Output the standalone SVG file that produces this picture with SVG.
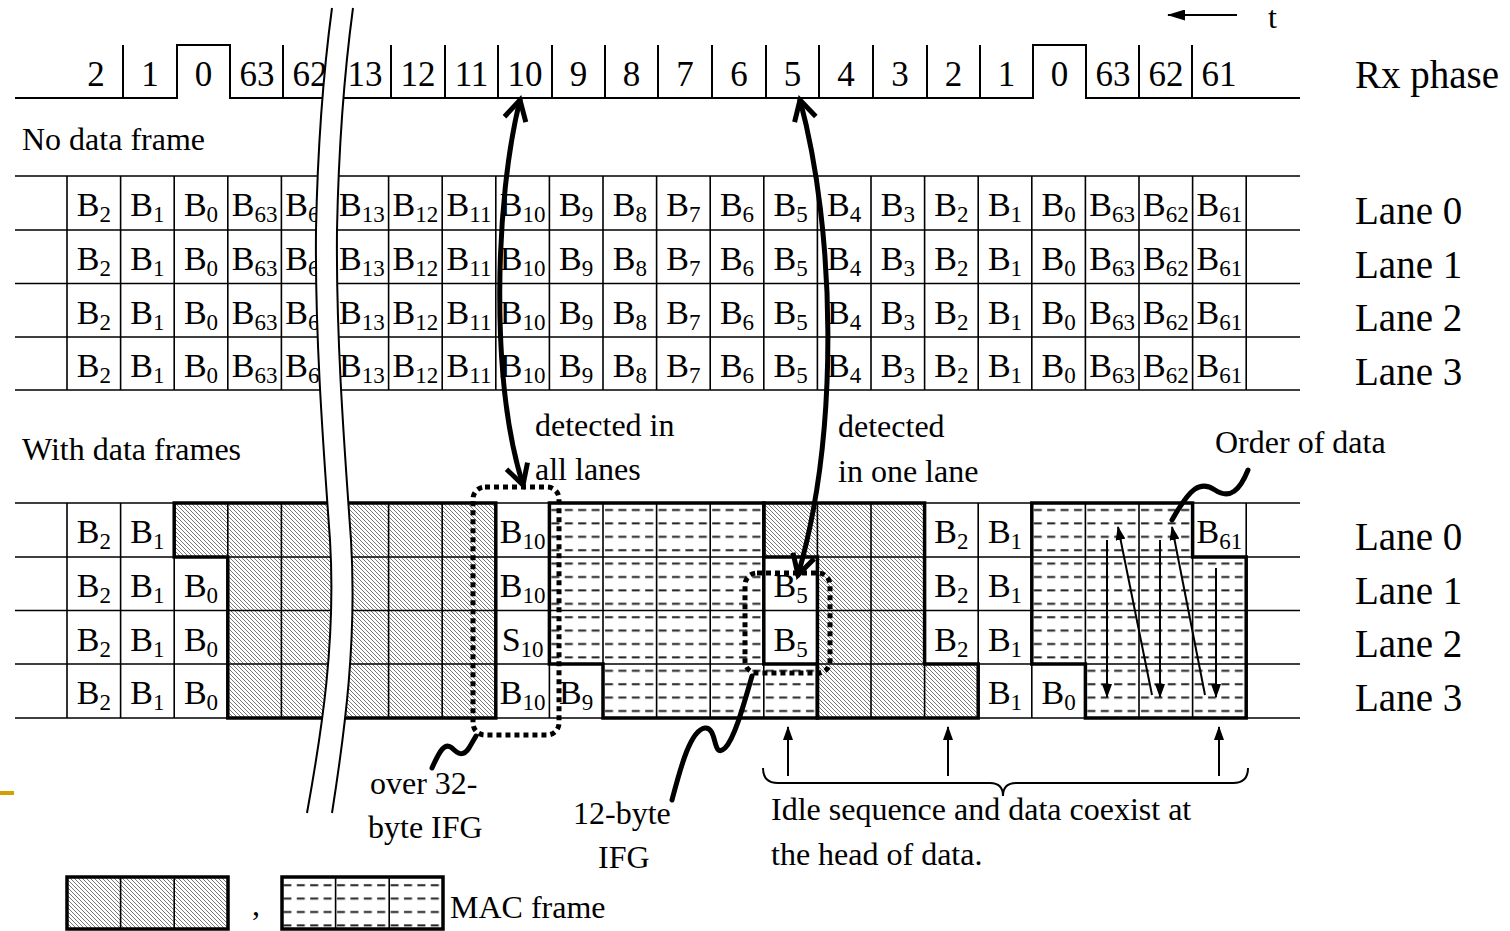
<svg xmlns="http://www.w3.org/2000/svg" width="1510" height="931" viewBox="0 0 1510 931">
<style>
.t{font-family:"Liberation Serif","Times New Roman",serif;fill:#000}
.cell{font-size:34px;text-anchor:middle}
.sub{font-size:23px}
.lab{font-size:39px}
.ann{font-size:32px}
.ph{font-size:35px;text-anchor:middle}
.grid{stroke:#000;stroke-width:1.6;fill:none}
.thick{stroke:#000;stroke-width:3.5;fill:none;stroke-linejoin:miter}
.dot{stroke:#000;stroke-width:5;stroke-dasharray:5 4;fill:none}
.big{stroke:#000;stroke-width:5;fill:none;stroke-linecap:round}
.thin{stroke:#000;stroke-width:2;fill:none}
</style>
<defs>
<pattern id="hatch" patternUnits="userSpaceOnUse" width="4" height="4"><rect width="4" height="4" fill="#fff"/><path d="M-1,-1 L5,5 M-1,3 L1,5 M3,-1 L5,1" stroke="#555" stroke-width="0.8"/></pattern>
<pattern id="mac" patternUnits="userSpaceOnUse" x="0" y="503" width="13.4" height="13.4"><rect width="13.4" height="13.4" fill="#fff"/><path d="M2,7 H10" stroke="#222" stroke-width="2"/></pattern>
<marker id="chev" markerUnits="userSpaceOnUse" viewBox="-24 -14 28 28" refX="0" refY="0" markerWidth="28" markerHeight="28" orient="auto-start-reverse" overflow="visible"><path d="M-20,-11 L0,0 L-20,11" fill="none" stroke="#000" stroke-width="5"/></marker>
<marker id="tri" markerUnits="userSpaceOnUse" viewBox="0 0 14 10" refX="13" refY="5" markerWidth="14" markerHeight="10" orient="auto"><path d="M0,0 L14,5 L0,10 Z" fill="#000"/></marker>
<marker id="tri2" markerUnits="userSpaceOnUse" viewBox="0 0 18 11" refX="17" refY="5.5" markerWidth="18" markerHeight="11" orient="auto"><path d="M0,0 L18,5.5 L0,11 Z" fill="#000"/></marker>
</defs>
<rect width="1510" height="931" fill="#fff"/>

<g id="phase-row">
<path class="thin" d="M15,98 H177 V45 H230 V98 H1033 V45 H1086 V98 H1300" stroke-width="3"/>
<path class="thin" stroke-width="3" d="M123,45V98 M283,45V98 M391,45V98 M445,45V98 M498,45V98 M552,45V98 M605,45V98 M658,45V98 M712,45V98 M766,45V98 M819,45V98 M873,45V98 M927,45V98 M980,45V98 M1139,45V98 M1192,45V98"/>
<text class="t ph" y="86"><tspan x="96">2</tspan><tspan x="150">1</tspan><tspan x="203.5">0</tspan><tspan x="257">63</tspan><tspan x="310">62</tspan><tspan x="365">13</tspan><tspan x="418">12</tspan><tspan x="471.5">11</tspan><tspan x="525">10</tspan><tspan x="578.5">9</tspan><tspan x="631.5">8</tspan><tspan x="685">7</tspan><tspan x="739">6</tspan><tspan x="792.5">5</tspan><tspan x="846">4</tspan><tspan x="900">3</tspan><tspan x="953.5">2</tspan><tspan x="1006.5">1</tspan><tspan x="1059.5">0</tspan><tspan x="1113">63</tspan><tspan x="1166">62</tspan><tspan x="1219">61</tspan></text>
<text class="t lab" x="1355" y="88">Rx phase</text>
<line class="thin" x1="1237" y1="15" x2="1168" y2="15" marker-end="url(#tri2)"/>
<text class="t ann" x="1268" y="28">t</text>
</g>

<g id="no-data">
<text class="t ann" x="22" y="150">No data frame</text>
<path class="grid" stroke-width="2" d="M15,176H1300 M15,230H1300 M15,283.5H1300 M15,337H1300 M15,390H1300"/>
<path class="grid" d="M67,176V390 M120.6,176V390 M174.2,176V390 M227.8,176V390 M281.4,176V390 M335,176V390 M388.6,176V390 M442.2,176V390 M495.8,176V390 M549.4,176V390 M603,176V390 M656.6,176V390 M710.2,176V390 M763.8,176V390 M817.4,176V390 M871,176V390 M924.6,176V390 M978.2,176V390 M1031.8,176V390 M1085.4,176V390 M1139,176V390 M1192.6,176V390 M1246.2,176V390"/>
<g id="nd-lane0">
<text class="t cell" x="93.8" y="216">B<tspan class="sub" dy="6">2</tspan></text>
<text class="t cell" x="147.4" y="216">B<tspan class="sub" dy="6">1</tspan></text>
<text class="t cell" x="201" y="216">B<tspan class="sub" dy="6">0</tspan></text>
<text class="t cell" x="254.6" y="216">B<tspan class="sub" dy="6">63</tspan></text>
<text class="t cell" x="308.2" y="216">B<tspan class="sub" dy="6">62</tspan></text>
<text class="t cell" x="361.8" y="216">B<tspan class="sub" dy="6">13</tspan></text>
<text class="t cell" x="415.4" y="216">B<tspan class="sub" dy="6">12</tspan></text>
<text class="t cell" x="469" y="216">B<tspan class="sub" dy="6">11</tspan></text>
<text class="t cell" x="522.6" y="216">B<tspan class="sub" dy="6">10</tspan></text>
<text class="t cell" x="576.2" y="216">B<tspan class="sub" dy="6">9</tspan></text>
<text class="t cell" x="629.8" y="216">B<tspan class="sub" dy="6">8</tspan></text>
<text class="t cell" x="683.4" y="216">B<tspan class="sub" dy="6">7</tspan></text>
<text class="t cell" x="737" y="216">B<tspan class="sub" dy="6">6</tspan></text>
<text class="t cell" x="790.6" y="216">B<tspan class="sub" dy="6">5</tspan></text>
<text class="t cell" x="844.2" y="216">B<tspan class="sub" dy="6">4</tspan></text>
<text class="t cell" x="897.8" y="216">B<tspan class="sub" dy="6">3</tspan></text>
<text class="t cell" x="951.4" y="216">B<tspan class="sub" dy="6">2</tspan></text>
<text class="t cell" x="1005" y="216">B<tspan class="sub" dy="6">1</tspan></text>
<text class="t cell" x="1058.6" y="216">B<tspan class="sub" dy="6">0</tspan></text>
<text class="t cell" x="1112.2" y="216">B<tspan class="sub" dy="6">63</tspan></text>
<text class="t cell" x="1165.8" y="216">B<tspan class="sub" dy="6">62</tspan></text>
<text class="t cell" x="1219.4" y="216">B<tspan class="sub" dy="6">61</tspan></text>
</g>
<g id="nd-lane1">
<text class="t cell" x="93.8" y="270">B<tspan class="sub" dy="6">2</tspan></text>
<text class="t cell" x="147.4" y="270">B<tspan class="sub" dy="6">1</tspan></text>
<text class="t cell" x="201" y="270">B<tspan class="sub" dy="6">0</tspan></text>
<text class="t cell" x="254.6" y="270">B<tspan class="sub" dy="6">63</tspan></text>
<text class="t cell" x="308.2" y="270">B<tspan class="sub" dy="6">62</tspan></text>
<text class="t cell" x="361.8" y="270">B<tspan class="sub" dy="6">13</tspan></text>
<text class="t cell" x="415.4" y="270">B<tspan class="sub" dy="6">12</tspan></text>
<text class="t cell" x="469" y="270">B<tspan class="sub" dy="6">11</tspan></text>
<text class="t cell" x="522.6" y="270">B<tspan class="sub" dy="6">10</tspan></text>
<text class="t cell" x="576.2" y="270">B<tspan class="sub" dy="6">9</tspan></text>
<text class="t cell" x="629.8" y="270">B<tspan class="sub" dy="6">8</tspan></text>
<text class="t cell" x="683.4" y="270">B<tspan class="sub" dy="6">7</tspan></text>
<text class="t cell" x="737" y="270">B<tspan class="sub" dy="6">6</tspan></text>
<text class="t cell" x="790.6" y="270">B<tspan class="sub" dy="6">5</tspan></text>
<text class="t cell" x="844.2" y="270">B<tspan class="sub" dy="6">4</tspan></text>
<text class="t cell" x="897.8" y="270">B<tspan class="sub" dy="6">3</tspan></text>
<text class="t cell" x="951.4" y="270">B<tspan class="sub" dy="6">2</tspan></text>
<text class="t cell" x="1005" y="270">B<tspan class="sub" dy="6">1</tspan></text>
<text class="t cell" x="1058.6" y="270">B<tspan class="sub" dy="6">0</tspan></text>
<text class="t cell" x="1112.2" y="270">B<tspan class="sub" dy="6">63</tspan></text>
<text class="t cell" x="1165.8" y="270">B<tspan class="sub" dy="6">62</tspan></text>
<text class="t cell" x="1219.4" y="270">B<tspan class="sub" dy="6">61</tspan></text>
</g>
<g id="nd-lane2">
<text class="t cell" x="93.8" y="323.5">B<tspan class="sub" dy="6">2</tspan></text>
<text class="t cell" x="147.4" y="323.5">B<tspan class="sub" dy="6">1</tspan></text>
<text class="t cell" x="201" y="323.5">B<tspan class="sub" dy="6">0</tspan></text>
<text class="t cell" x="254.6" y="323.5">B<tspan class="sub" dy="6">63</tspan></text>
<text class="t cell" x="308.2" y="323.5">B<tspan class="sub" dy="6">62</tspan></text>
<text class="t cell" x="361.8" y="323.5">B<tspan class="sub" dy="6">13</tspan></text>
<text class="t cell" x="415.4" y="323.5">B<tspan class="sub" dy="6">12</tspan></text>
<text class="t cell" x="469" y="323.5">B<tspan class="sub" dy="6">11</tspan></text>
<text class="t cell" x="522.6" y="323.5">B<tspan class="sub" dy="6">10</tspan></text>
<text class="t cell" x="576.2" y="323.5">B<tspan class="sub" dy="6">9</tspan></text>
<text class="t cell" x="629.8" y="323.5">B<tspan class="sub" dy="6">8</tspan></text>
<text class="t cell" x="683.4" y="323.5">B<tspan class="sub" dy="6">7</tspan></text>
<text class="t cell" x="737" y="323.5">B<tspan class="sub" dy="6">6</tspan></text>
<text class="t cell" x="790.6" y="323.5">B<tspan class="sub" dy="6">5</tspan></text>
<text class="t cell" x="844.2" y="323.5">B<tspan class="sub" dy="6">4</tspan></text>
<text class="t cell" x="897.8" y="323.5">B<tspan class="sub" dy="6">3</tspan></text>
<text class="t cell" x="951.4" y="323.5">B<tspan class="sub" dy="6">2</tspan></text>
<text class="t cell" x="1005" y="323.5">B<tspan class="sub" dy="6">1</tspan></text>
<text class="t cell" x="1058.6" y="323.5">B<tspan class="sub" dy="6">0</tspan></text>
<text class="t cell" x="1112.2" y="323.5">B<tspan class="sub" dy="6">63</tspan></text>
<text class="t cell" x="1165.8" y="323.5">B<tspan class="sub" dy="6">62</tspan></text>
<text class="t cell" x="1219.4" y="323.5">B<tspan class="sub" dy="6">61</tspan></text>
</g>
<g id="nd-lane3">
<text class="t cell" x="93.8" y="377">B<tspan class="sub" dy="6">2</tspan></text>
<text class="t cell" x="147.4" y="377">B<tspan class="sub" dy="6">1</tspan></text>
<text class="t cell" x="201" y="377">B<tspan class="sub" dy="6">0</tspan></text>
<text class="t cell" x="254.6" y="377">B<tspan class="sub" dy="6">63</tspan></text>
<text class="t cell" x="308.2" y="377">B<tspan class="sub" dy="6">62</tspan></text>
<text class="t cell" x="361.8" y="377">B<tspan class="sub" dy="6">13</tspan></text>
<text class="t cell" x="415.4" y="377">B<tspan class="sub" dy="6">12</tspan></text>
<text class="t cell" x="469" y="377">B<tspan class="sub" dy="6">11</tspan></text>
<text class="t cell" x="522.6" y="377">B<tspan class="sub" dy="6">10</tspan></text>
<text class="t cell" x="576.2" y="377">B<tspan class="sub" dy="6">9</tspan></text>
<text class="t cell" x="629.8" y="377">B<tspan class="sub" dy="6">8</tspan></text>
<text class="t cell" x="683.4" y="377">B<tspan class="sub" dy="6">7</tspan></text>
<text class="t cell" x="737" y="377">B<tspan class="sub" dy="6">6</tspan></text>
<text class="t cell" x="790.6" y="377">B<tspan class="sub" dy="6">5</tspan></text>
<text class="t cell" x="844.2" y="377">B<tspan class="sub" dy="6">4</tspan></text>
<text class="t cell" x="897.8" y="377">B<tspan class="sub" dy="6">3</tspan></text>
<text class="t cell" x="951.4" y="377">B<tspan class="sub" dy="6">2</tspan></text>
<text class="t cell" x="1005" y="377">B<tspan class="sub" dy="6">1</tspan></text>
<text class="t cell" x="1058.6" y="377">B<tspan class="sub" dy="6">0</tspan></text>
<text class="t cell" x="1112.2" y="377">B<tspan class="sub" dy="6">63</tspan></text>
<text class="t cell" x="1165.8" y="377">B<tspan class="sub" dy="6">62</tspan></text>
<text class="t cell" x="1219.4" y="377">B<tspan class="sub" dy="6">61</tspan></text>
</g>
<text class="t lab" x="1355" y="224">Lane 0</text>
<text class="t lab" x="1355" y="278">Lane 1</text>
<text class="t lab" x="1355" y="331">Lane 2</text>
<text class="t lab" x="1355" y="385">Lane 3</text>
</g>

<g id="with-data">
<text class="t ann" x="22" y="460">With data frames</text>
<path id="idle-1" fill="url(#hatch)" d="M174.2,503 H495.8 V718 H227.8 V557 H174.2 Z"/>
<path id="mac-1" fill="url(#mac)" d="M549.4,503 H763.8 V664 H817.4 V718 H603 V664 H549.4 Z"/>
<path id="idle-2" fill="url(#hatch)" d="M763.8,503 H924.6 V664 H978.2 V718 H817.4 V557 H763.8 Z"/>
<path id="mac-2" fill="url(#mac)" d="M1031.8,503 H1192.6 V557 H1246.2 V718 H1085.4 V664 H1031.8 Z"/>
<path class="grid" stroke-width="2" d="M15,503H1300 M15,557H1300 M15,610.5H1300 M15,664H1300 M15,718H1300"/>
<path class="grid" d="M67,503V718 M120.6,503V718 M174.2,503V718 M227.8,503V718 M281.4,503V718 M335,503V718 M388.6,503V718 M442.2,503V718 M495.8,503V718 M549.4,503V718 M603,503V718 M656.6,503V718 M710.2,503V718 M763.8,503V718 M817.4,503V718 M871,503V718 M924.6,503V718 M978.2,503V718 M1031.8,503V718 M1085.4,503V718 M1139,503V718 M1192.6,503V718 M1246.2,503V718"/>
<path class="thick" d="M174.2,503 H495.8 V718 H227.8 V557 H174.2 Z"/>
<path class="thick" d="M549.4,503 H763.8 V664 H817.4 V718 H603 V664 H549.4 Z"/>
<path class="thick" d="M763.8,503 H924.6 V664 H978.2 V718 H817.4 V557 H763.8 Z"/>
<path class="thick" d="M1031.8,503 H1192.6 V557 H1246.2 V718 H1085.4 V664 H1031.8 Z"/>
<g id="wd-lane0">
<text class="t cell" x="93.8" y="543">B<tspan class="sub" dy="6">2</tspan></text>
<text class="t cell" x="147.4" y="543">B<tspan class="sub" dy="6">1</tspan></text>
<text class="t cell" x="522.6" y="543">B<tspan class="sub" dy="6">10</tspan></text>
<text class="t cell" x="951.4" y="543">B<tspan class="sub" dy="6">2</tspan></text>
<text class="t cell" x="1005" y="543">B<tspan class="sub" dy="6">1</tspan></text>
<text class="t cell" x="1219.4" y="543">B<tspan class="sub" dy="6">61</tspan></text>
</g>
<g id="wd-lane1">
<text class="t cell" x="93.8" y="597">B<tspan class="sub" dy="6">2</tspan></text>
<text class="t cell" x="147.4" y="597">B<tspan class="sub" dy="6">1</tspan></text>
<text class="t cell" x="201" y="597">B<tspan class="sub" dy="6">0</tspan></text>
<text class="t cell" x="522.6" y="597">B<tspan class="sub" dy="6">10</tspan></text>
<text class="t cell" x="790.6" y="597">B<tspan class="sub" dy="6">5</tspan></text>
<text class="t cell" x="951.4" y="597">B<tspan class="sub" dy="6">2</tspan></text>
<text class="t cell" x="1005" y="597">B<tspan class="sub" dy="6">1</tspan></text>
</g>
<g id="wd-lane2">
<text class="t cell" x="93.8" y="650.5">B<tspan class="sub" dy="6">2</tspan></text>
<text class="t cell" x="147.4" y="650.5">B<tspan class="sub" dy="6">1</tspan></text>
<text class="t cell" x="201" y="650.5">B<tspan class="sub" dy="6">0</tspan></text>
<text class="t cell" x="522.6" y="650.5">S<tspan class="sub" dy="6">10</tspan></text>
<text class="t cell" x="790.6" y="650.5">B<tspan class="sub" dy="6">5</tspan></text>
<text class="t cell" x="951.4" y="650.5">B<tspan class="sub" dy="6">2</tspan></text>
<text class="t cell" x="1005" y="650.5">B<tspan class="sub" dy="6">1</tspan></text>
</g>
<g id="wd-lane3">
<text class="t cell" x="93.8" y="704">B<tspan class="sub" dy="6">2</tspan></text>
<text class="t cell" x="147.4" y="704">B<tspan class="sub" dy="6">1</tspan></text>
<text class="t cell" x="201" y="704">B<tspan class="sub" dy="6">0</tspan></text>
<text class="t cell" x="522.6" y="704">B<tspan class="sub" dy="6">10</tspan></text>
<text class="t cell" x="576.2" y="704">B<tspan class="sub" dy="6">9</tspan></text>
<text class="t cell" x="1005" y="704">B<tspan class="sub" dy="6">1</tspan></text>
<text class="t cell" x="1058.6" y="704">B<tspan class="sub" dy="6">0</tspan></text>
</g>
<text class="t lab" x="1355" y="550">Lane 0</text>
<text class="t lab" x="1355" y="604">Lane 1</text>
<text class="t lab" x="1355" y="657">Lane 2</text>
<text class="t lab" x="1355" y="711">Lane 3</text>
</g>

<g id="break">
<path fill="#fff" d="M332,8 C325,60 318,130 316,230 C315,330 322,430 330,540 C336,640 322,730 307,813 L332,813 C345,730 357,640 351,540 C343,430 336,330 337,230 C339,130 346,60 353,8 Z"/>
<path class="thin" stroke-width="1.8" d="M332,8 C325,60 318,130 316,230 C315,330 322,430 330,540 C336,640 322,730 307,813"/>
<path class="thin" stroke-width="1.8" d="M353,8 C346,60 339,130 337,230 C336,330 343,430 351,540 C357,640 345,730 332,813"/>
</g>

<g id="ifg-boxes">
<rect class="dot" x="473" y="487" width="86" height="248" rx="12"/>
<rect class="dot" x="745" y="573" width="85" height="100" rx="12"/>
</g>

<g id="labels">
<text class="t ann" x="535" y="436">detected in</text>
<text class="t ann" x="535" y="480">all lanes</text>
<text class="t ann" x="838" y="437">detected</text>
<text class="t ann" x="838" y="482">in one lane</text>
<text class="t ann" x="1215" y="453">Order of data</text>
<text class="t ann" x="370" y="794">over 32-</text>
<text class="t ann" x="368" y="838">byte IFG</text>
<text class="t ann" x="573" y="824">12-byte</text>
<text class="t ann" x="598" y="868">IFG</text>
<text class="t ann" x="771" y="820">Idle sequence and data coexist at</text>
<text class="t ann" x="771" y="865">the head of data.</text>
</g>

<g id="connectors">
<path class="big" d="M520,100 C495,200 490,380 523,485" marker-start="url(#chev)" marker-end="url(#chev)"/>
<path class="big" d="M800,100 C835,230 840,430 798,575" marker-start="url(#chev)" marker-end="url(#chev)"/>
<path class="big" stroke-width="4.5" d="M432,768 C440,750 445,742 452,748 C458,754 463,757 469,748 L476,736"/>
<path class="big" stroke-width="4.5" d="M672,800 C680,770 690,730 705,728 C718,727 712,760 725,748 C735,738 745,700 752,676"/>
<path class="big" stroke-width="4.5" d="M1248,470 C1240,490 1230,500 1215,490 C1200,480 1190,488 1172,520"/>
<line class="thin" x1="1107" y1="540" x2="1107" y2="697" marker-end="url(#tri)"/>
<line class="thin" x1="1152" y1="695" x2="1118" y2="527" marker-end="url(#tri)"/>
<line class="thin" x1="1160" y1="540" x2="1160" y2="697" marker-end="url(#tri)"/>
<line class="thin" x1="1205" y1="695" x2="1172" y2="527" marker-end="url(#tri)"/>
<line class="thin" x1="1216" y1="568" x2="1216" y2="697" marker-end="url(#tri)"/>
<line class="thin" x1="788" y1="776" x2="788" y2="727" marker-end="url(#tri)"/>
<line class="thin" x1="948" y1="776" x2="948" y2="727" marker-end="url(#tri)"/>
<line class="thin" x1="1219" y1="776" x2="1219" y2="727" marker-end="url(#tri)"/>
<path class="thin" d="M763,768 Q763,783 778,783 L990,783 Q1003,783 1003,796 Q1003,783 1016,783 L1233,783 Q1248,783 1248,768"/>
</g>

<g id="legend">
<rect x="67" y="877" width="161" height="52" fill="url(#hatch)"/>
<path class="grid" d="M120.6,877V929 M174.2,877V929"/>
<rect class="thick" x="67" y="877" width="161" height="52"/>
<text class="t ann" x="252" y="915">,</text>
<rect x="282" y="877" width="161" height="52" fill="url(#mac)"/>
<path class="grid" d="M335.6,877V929 M389.2,877V929"/>
<rect class="thick" x="282" y="877" width="161" height="52"/>
<text class="t ann" x="450" y="918">MAC frame</text>
</g>
<rect x="0" y="791" width="14" height="4" fill="#D4A000"/>
</svg>
